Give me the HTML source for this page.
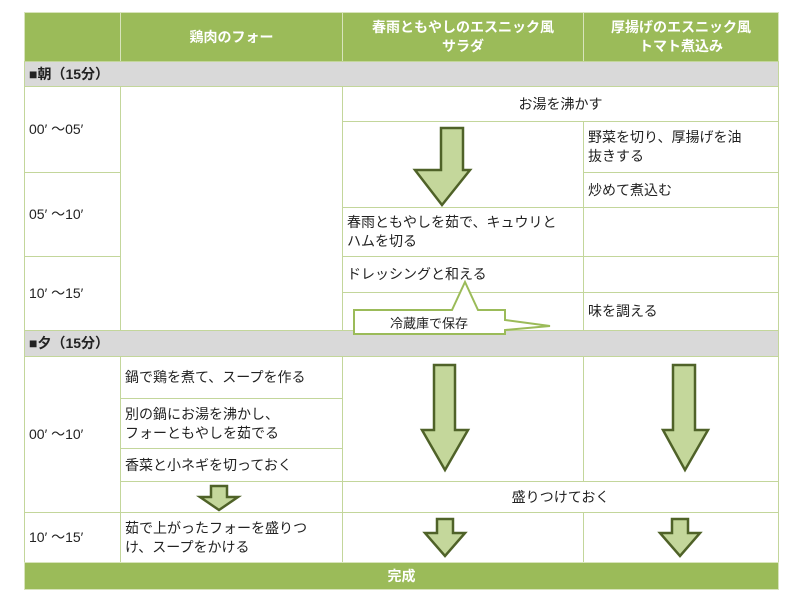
<!DOCTYPE html>
<html><head><meta charset="utf-8"><style>
body{margin:0;width:800px;height:601px;background:#fff;position:relative;overflow:hidden;font-family:"Liberation Sans","Noto Sans CJK JP",sans-serif;font-size:14px;color:#222}
.c{position:absolute;box-sizing:border-box;border:1px solid #c3d69b;display:flex;align-items:center;padding:0 4px;line-height:19px;background:#fff}
.h{background:#9bbb59;color:#fff;font-weight:bold;justify-content:center;text-align:center;border-color:#d8e4bc}
.g{background:#d9d9d9;font-weight:bold;border-color:#c3d69b}
.ct{justify-content:center}
</style></head><body>
<div class="c h" style="left:24px;top:12px;width:97px;height:50px"></div>
<div class="c h" style="left:120px;top:12px;width:223px;height:50px">鶏肉のフォー</div>
<div class="c h" style="left:342px;top:12px;width:242px;height:50px">春雨ともやしのエスニック風<br>サラダ</div>
<div class="c h" style="left:583px;top:12px;width:196px;height:50px">厚揚げのエスニック風<br>トマト煮込み</div>
<div class="c g" style="left:24px;top:61px;width:755px;height:26px">■朝（15分）</div>
<div class="c" style="left:24px;top:86px;width:97px;height:87px">00′ ～05′</div>
<div class="c" style="left:24px;top:172px;width:97px;height:85px">05′ ～10′</div>
<div class="c" style="left:24px;top:256px;width:97px;height:75px">10′ ～15′</div>
<div class="c" style="left:120px;top:86px;width:223px;height:245px"></div>
<div class="c ct" style="left:342px;top:86px;width:437px;height:36px">お湯を沸かす</div>
<div class="c" style="left:342px;top:121px;width:242px;height:87px"></div>
<div class="c" style="left:583px;top:121px;width:196px;height:52px">野菜を切り、厚揚げを油<br>抜きする</div>
<div class="c" style="left:583px;top:172px;width:196px;height:36px">炒めて煮込む</div>
<div class="c" style="left:342px;top:207px;width:242px;height:50px">春雨ともやしを茹で、キュウリと<br>ハムを切る</div>
<div class="c" style="left:583px;top:207px;width:196px;height:50px"></div>
<div class="c" style="left:342px;top:256px;width:242px;height:37px">ドレッシングと和える</div>
<div class="c" style="left:583px;top:256px;width:196px;height:37px"></div>
<div class="c" style="left:342px;top:292px;width:242px;height:39px"></div>
<div class="c" style="left:583px;top:292px;width:196px;height:39px">味を調える</div>
<div class="c g" style="left:24px;top:330px;width:755px;height:27px">■夕（15分）</div>
<div class="c" style="left:24px;top:356px;width:97px;height:157px">00′ ～10′</div>
<div class="c" style="left:24px;top:512px;width:97px;height:51px">10′ ～15′</div>
<div class="c" style="left:120px;top:356px;width:223px;height:43px">鍋で鶏を煮て、スープを作る</div>
<div class="c" style="left:120px;top:398px;width:223px;height:51px">別の鍋にお湯を沸かし、<br>フォーともやしを茹でる</div>
<div class="c" style="left:120px;top:448px;width:223px;height:34px">香菜と小ネギを切っておく</div>
<div class="c" style="left:120px;top:481px;width:223px;height:32px"></div>
<div class="c" style="left:342px;top:356px;width:242px;height:126px"></div>
<div class="c" style="left:583px;top:356px;width:196px;height:126px"></div>
<div class="c ct" style="left:342px;top:481px;width:437px;height:32px">盛りつけておく</div>
<div class="c" style="left:120px;top:512px;width:223px;height:51px">茹で上がったフォーを盛りつ<br>け、スープをかける</div>
<div class="c" style="left:342px;top:512px;width:242px;height:51px"></div>
<div class="c" style="left:583px;top:512px;width:196px;height:51px"></div>
<div class="c h" style="left:24px;top:562px;width:755px;height:28px">完成</div>
<svg width="800" height="601" style="position:absolute;left:0;top:0" fill="#c4d79b" stroke="#4f6228" stroke-width="2.5" stroke-linejoin="miter">
<polygon points="441,128 463,128 463,170 470,170 442,205 415,170 441,170"/>
<polygon points="434,365 455,365 455,430 468,430 445,470 422,430 434,430"/>
<polygon points="673,365 695,365 695,430 708,430 685,470 663,430 673,430"/>
<polygon points="211,486 227,486 227,497 238,497 219,510 200,497 211,497"/>
<polygon points="437,519 453,519 453,533 465,533 445,556 425,533 437,533"/>
<polygon points="672,519 688,519 688,533 700,533 680,556 660,533 672,533"/>
<path d="M354,310 L452,310 L465,282 L478,310 L505,310 L505,320 L550,326 L505,330 L505,334 L354,334 Z" fill="#fff" stroke="#9bbb59" stroke-width="2"/>
<text x="429" y="328" font-size="13" text-anchor="middle" fill="#222" stroke="none" font-family="Liberation Sans, Noto Sans CJK JP, sans-serif">冷蔵庫で保存</text>
</svg>
</body></html>
